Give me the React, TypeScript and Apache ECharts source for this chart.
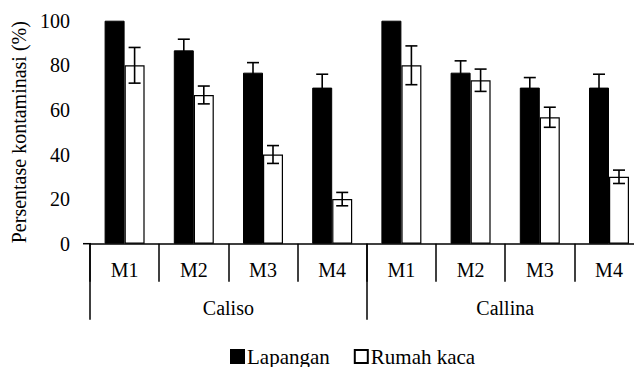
import React, { useEffect, useRef } from "react";
import * as echarts from "echarts";

const subCategories = ["M1", "M2", "M3", "M4", "M1", "M2", "M3", "M4"];
const groups = ["Caliso", "Callina"];
const yTicks = { min: 0, max: 100, interval: 20 };
const seriesNames = ["Lapangan", "Rumah kaca"];
const lapangan = [100, 86.7, 76.7, 70, 100, 76.7, 70, 70];
const lapanganErr = [0, 5, 4.5, 6, 0, 5.3, 4.5, 6];
const rumahKaca = [80, 66.7, 40, 20, 80, 73.3, 56.7, 30];
const rumahKacaErr = [8, 4, 4, 3, 8.7, 5, 4.5, 3];

const FONT = "Liberation Serif";
const BAR_W = 20;

function errorSeries(name: string, values: number[], errs: number[], offset: number) {
  return {
    type: "custom",
    name: name + " error",
    xAxisIndex: 0,
    yAxisIndex: 0,
    z: 10,
    silent: true,
    data: values.map((v, i) => [i, v, errs[i]]),
    encode: { x: 0, y: 1 },
    renderItem: (_params: any, api: any) => {
      const idx = api.value(0);
      const v = api.value(1);
      const e = api.value(2);
      if (!e) return null;
      const top = api.coord([idx, v + e]);
      const bot = api.coord([idx, v - e]);
      const x = top[0] + offset;
      const cap = 6;
      const style = { stroke: "#000", lineWidth: 1.6 };
      return {
        type: "group",
        children: [
          { type: "line", shape: { x1: x, y1: top[1], x2: x, y2: bot[1] }, style },
          { type: "line", shape: { x1: x - cap, y1: top[1], x2: x + cap, y2: top[1] }, style },
          { type: "line", shape: { x1: x - cap, y1: bot[1], x2: x + cap, y2: bot[1] }, style },
        ],
      };
    },
  };
}

export default function App() {
  const ref = useRef<HTMLDivElement>(null);
  useEffect(() => {
    if (!ref.current) return;
    const chart = echarts.init(ref.current, null, { renderer: "svg" });
    const textStyle = { fontFamily: FONT, fontSize: 20, color: "#000" };
    chart.setOption({
      animation: false,
      backgroundColor: "#fff",
      textStyle: { fontFamily: FONT, color: "#000" },
      grid: {
        left: 90,
        top: 20.7,
        width: 553.6,
        height: 223,
        containLabel: false,
        outerBoundsMode: "none",
      },
      legend: {
        data: seriesNames,
        left: 230,
        top: 346,
        padding: 0,
        itemWidth: 13,
        itemHeight: 13,
        itemGap: 24,
        icon: "rect",
        textStyle: { ...textStyle, fontSize: 21, padding: [0, 0, 0, -2] },
      },
      xAxis: [
        {
          type: "category",
          data: subCategories,
          position: "bottom",
          axisLine: { show: true, lineStyle: { color: "#000", width: 1.5 } },
          axisTick: { show: true, interval: 0, length: 38, lineStyle: { color: "#000", width: 1.5 } },
          axisLabel: { ...textStyle, interval: 0, margin: 16 },
        },
        {
          type: "category",
          data: groups,
          position: "bottom",
          axisLine: { show: false },
          axisTick: { show: true, interval: 0, length: 76, lineStyle: { color: "#000", width: 1.5 } },
          axisLabel: { ...textStyle, interval: 0, margin: 54 },
        },
      ],
      yAxis: {
        type: "value",
        min: yTicks.min,
        max: yTicks.max,
        interval: yTicks.interval,
        name: "Persentase kontaminasi (%)",
        nameLocation: "middle",
        nameGap: 53,
        nameTextStyle: { ...textStyle },
        axisLine: { show: false },
        axisTick: { show: false },
        splitLine: { show: false },
        axisLabel: { ...textStyle, margin: 20 },
      },
      graphic: [
        {
          type: "line",
          shape: { x1: 83, y1: 243.7, x2: 91, y2: 243.7 },
          style: { stroke: "#000", lineWidth: 1.5 },
        },
      ],
      series: [
        {
          type: "bar",
          name: seriesNames[0],
          data: lapangan,
          barWidth: BAR_W,
          barGap: "0%",
          itemStyle: { color: "#000", borderColor: "#000", borderWidth: 1 },
        },
        {
          type: "bar",
          name: seriesNames[1],
          data: rumahKaca,
          barWidth: BAR_W,
          barGap: "0%",
          itemStyle: { color: "#fff", borderColor: "#000", borderWidth: 1.2 },
        },
        errorSeries(seriesNames[0], lapangan, lapanganErr, -BAR_W / 2),
        errorSeries(seriesNames[1], rumahKaca, rumahKacaErr, BAR_W / 2),
      ],
    });
    return () => chart.dispose();
  }, []);
  return (
    <div
      ref={ref}
      style={{ position: "fixed", left: 0, top: 0, width: 634, height: 367, background: "#fff" }}
    />
  );
}
